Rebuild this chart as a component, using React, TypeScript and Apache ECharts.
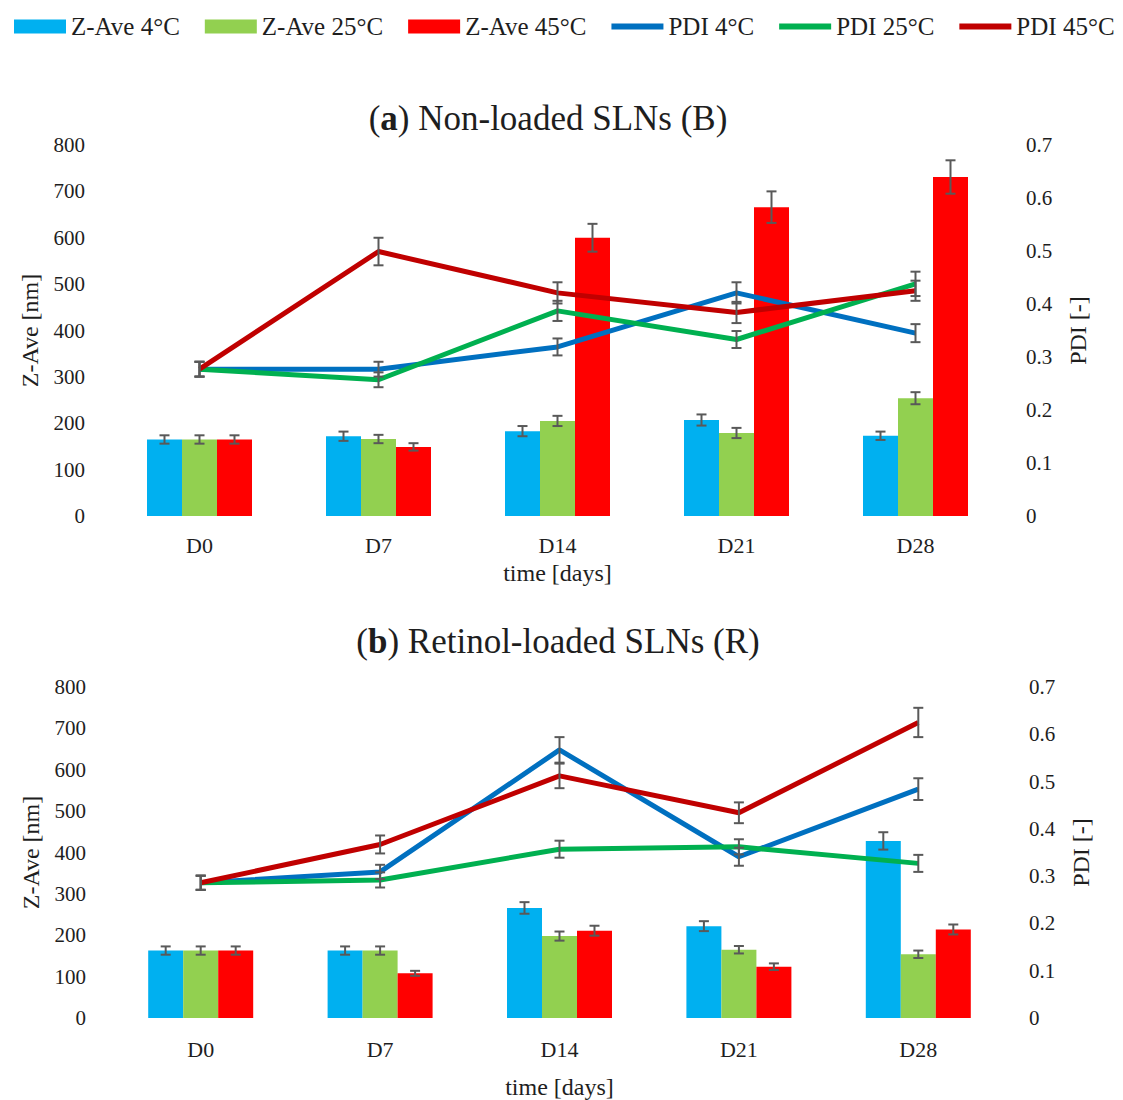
import React, { useEffect, useRef } from "react";
import * as echarts from "echarts";

const categories = ["D0", "D7", "D14", "D21", "D28"];
const legendNames = ["Z-Ave 4°C", "Z-Ave 25°C", "Z-Ave 45°C", "PDI 4°C", "PDI 25°C", "PDI 45°C"];
const zTicksMax = 800;
const pdiTicksMax = 0.7;

// Panel (a) Non-loaded SLNs (B)
const zA4 = [165, 172, 183, 207, 173];
const zA4Err = [9, 10, 11, 12, 9];
const zA25 = [165, 166, 205, 179, 254];
const zA25Err = [9, 9, 11, 11, 13];
const zA45 = [165, 149, 600, 666, 731];
const zA45Err = [9, 8, 30, 34, 36];
const pA4 = [0.277, 0.277, 0.319, 0.421, 0.345];
const pA4Err = [0.014, 0.014, 0.016, 0.02, 0.017];
const pA25 = [0.277, 0.257, 0.387, 0.333, 0.438];
const pA25Err = [0.014, 0.014, 0.019, 0.016, 0.023];
const pA45 = [0.277, 0.499, 0.421, 0.384, 0.425];
const pA45Err = [0.014, 0.026, 0.02, 0.02, 0.019];

// Panel (b) Retinol-loaded SLNs (R)
const zB4 = [163, 163, 266, 222, 428];
const zB4Err = [10, 10, 14, 12, 21];
const zB25 = [163, 163, 198, 165, 154];
const zB25Err = [10, 10, 11, 9, 9];
const zB45 = [163, 108, 211, 124, 214];
const zB45Err = [10, 6, 12, 8, 12];
const pB4 = [0.286, 0.309, 0.567, 0.341, 0.484];
const pB4Err = [0.015, 0.015, 0.027, 0.019, 0.023];
const pB25 = [0.286, 0.292, 0.357, 0.362, 0.327];
const pB25Err = [0.015, 0.016, 0.018, 0.016, 0.018];
const pB45 = [0.286, 0.367, 0.512, 0.434, 0.625];
const pB45Err = [0.015, 0.019, 0.026, 0.022, 0.031];

const FONT = "Liberation Serif";
const TXT = "#1e1e1e";
const barColors = ["#00B0F0", "#92D050", "#FF0000"];
const lineColors = ["#0070C0", "#00B050", "#C00000"];
const BAR_W = 35;
const LINE_ICON = "path://M0,0L52,0L52,6L0,6Z";

function errData(vals: number[], errs: number[]) {
  return vals.map((v, i) => [i, v - errs[i], v + errs[i]]);
}

function errRender(offsetIdx: number | null) {
  return (params: any, api: any) => {
    const cat = api.value(0);
    const lo = api.coord([cat, api.value(1)]);
    const hi = api.coord([cat, api.value(2)]);
    const dx = offsetIdx === null ? 0 : (offsetIdx - 1) * BAR_W;
    const x = lo[0] + dx;
    const cap = 5;
    const style = { stroke: "#595959", lineWidth: 2 };
    return {
      type: "group",
      children: [
        { type: "line", shape: { x1: x, y1: hi[1], x2: x, y2: lo[1] }, style },
        { type: "line", shape: { x1: x - cap, y1: hi[1], x2: x + cap, y2: hi[1] }, style },
        { type: "line", shape: { x1: x - cap, y1: lo[1], x2: x + cap, y2: lo[1] }, style },
      ],
    };
  };
}

function panelSeries(
  xIdx: number,
  yLeft: number,
  yRight: number,
  bars: number[][],
  barErrs: number[][],
  lines: number[][],
  lineErrs: number[][]
) {
  const s: any[] = [];
  bars.forEach((d, i) => {
    s.push({
      type: "bar",
      name: legendNames[i],
      xAxisIndex: xIdx,
      yAxisIndex: yLeft,
      data: d,
      barWidth: BAR_W,
      barGap: "0%",
      itemStyle: { color: barColors[i] },
      z: 2,
    });
  });
  lines.forEach((d, i) => {
    s.push({
      type: "line",
      name: legendNames[3 + i],
      xAxisIndex: xIdx,
      yAxisIndex: yRight,
      data: d,
      symbol: "none",
      lineStyle: { color: lineColors[i], width: 5 },
      itemStyle: { color: lineColors[i] },
      z: 3,
    });
  });
  bars.forEach((d, i) => {
    s.push({
      type: "custom",
      name: "err-bar-" + i,
      xAxisIndex: xIdx,
      yAxisIndex: yLeft,
      data: errData(d, barErrs[i]),
      encode: { x: 0, y: [1, 2] },
      renderItem: errRender(i),
      z: 5,
    });
  });
  lines.forEach((d, i) => {
    s.push({
      type: "custom",
      name: "err-line-" + i,
      xAxisIndex: xIdx,
      yAxisIndex: yRight,
      data: errData(d, lineErrs[i]),
      encode: { x: 0, y: [1, 2] },
      renderItem: errRender(null),
      z: 5,
    });
  });
  return s;
}

function xAxisDef(gridIndex: number, nameGap: number, labelMargin: number) {
  return {
    type: "category",
    gridIndex,
    data: categories,
    axisLine: { show: false },
    axisTick: { show: false },
    axisLabel: { color: TXT, fontFamily: FONT, fontSize: 22, margin: labelMargin },
    name: "time [days]",
    nameLocation: "middle",
    nameGap,
    nameTextStyle: { color: TXT, fontFamily: FONT, fontSize: 24 },
  };
}

function leftY(gridIndex: number) {
  return {
    type: "value",
    gridIndex,
    min: 0,
    max: zTicksMax,
    interval: 100,
    splitLine: { show: false },
    axisLine: { show: false },
    axisTick: { show: false },
    axisLabel: { color: TXT, fontFamily: FONT, fontSize: 21, margin: 25 },
    name: "Z-Ave [nm]",
    nameLocation: "middle",
    nameGap: 68,
    nameTextStyle: { color: TXT, fontFamily: FONT, fontSize: 24 },
  };
}

function rightY(gridIndex: number) {
  return {
    type: "value",
    gridIndex,
    position: "right",
    min: 0,
    max: pdiTicksMax,
    interval: 0.1,
    splitLine: { show: false },
    axisLine: { show: false },
    axisTick: { show: false },
    axisLabel: {
      color: TXT,
      fontFamily: FONT,
      fontSize: 21,
      margin: 21,
      formatter: (v: number) => (v === 0 ? "0" : v.toFixed(1)),
    },
    name: "PDI [-]",
    nameLocation: "middle",
    nameGap: 61,
    nameTextStyle: { color: TXT, fontFamily: FONT, fontSize: 24 },
  };
}

const titleRich = {
  p: { fontFamily: FONT, fontSize: 35, color: TXT, fontWeight: "normal" },
  b: { fontFamily: FONT, fontSize: 35, color: TXT, fontWeight: "bold" },
};

export default function App() {
  const ref = useRef<HTMLDivElement>(null);
  useEffect(() => {
    if (!ref.current) return;
    const chart = echarts.init(ref.current, undefined, { renderer: "svg" });
    chart.setOption({
      animation: false,
      backgroundColor: "#ffffff",
      title: [
        {
          text: "{p|(}{b|a}{p|) Non-loaded SLNs (B)}",
          left: 543,
          top: 96,
          textAlign: "center",
          textStyle: { fontWeight: "normal", fontFamily: FONT, fontSize: 35, rich: titleRich },
        },
        {
          text: "{p|(}{b|b}{p|) Retinol-loaded SLNs (R)}",
          left: 553,
          top: 619,
          textAlign: "center",
          textStyle: { fontWeight: "normal", fontFamily: FONT, fontSize: 35, rich: titleRich },
        },
      ],
      legend: {
        data: [
          { name: legendNames[0], icon: "rect" },
          { name: legendNames[1], icon: "rect" },
          { name: legendNames[2], icon: "rect" },
          { name: legendNames[3], icon: LINE_ICON },
          { name: legendNames[4], icon: LINE_ICON },
          { name: legendNames[5], icon: LINE_ICON },
        ],
        left: 9,
        top: 9,
        itemWidth: 52,
        itemHeight: 14,
        itemGap: 25,
        textStyle: { color: TXT, fontFamily: FONT, fontSize: 25 },
      },
      grid: [
        { left: 110, width: 895, top: 145, height: 371 },
        { left: 111, width: 897, top: 687, height: 331 },
      ],
      xAxis: [xAxisDef(0, 45, 18), xAxisDef(1, 57, 20)],
      yAxis: [leftY(0), rightY(0), leftY(1), rightY(1)],
      series: [
        ...panelSeries(0, 0, 1, [zA4, zA25, zA45], [zA4Err, zA25Err, zA45Err], [pA4, pA25, pA45], [pA4Err, pA25Err, pA45Err]),
        ...panelSeries(1, 2, 3, [zB4, zB25, zB45], [zB4Err, zB25Err, zB45Err], [pB4, pB25, pB45], [pB4Err, pB25Err, pB45Err]),
      ],
    });
    return () => chart.dispose();
  }, []);
  return (
    <div
      ref={ref}
      style={{ position: "absolute", left: 0, top: 0, width: 1123, height: 1100, background: "#fff" }}
    />
  );
}
